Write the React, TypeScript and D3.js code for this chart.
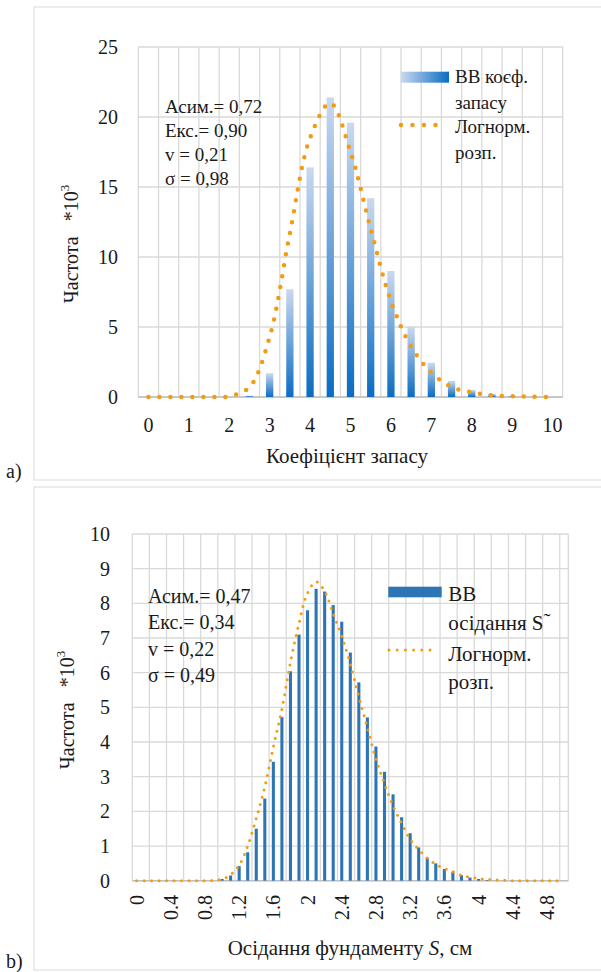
import React from "react";
import * as d3 from "d3";

// ---------- Chart a) ----------
const topCategories = ["0","0.5","1","1.5","2","2.5","3","3.5","4","4.5","5","5.5","6","6.5","7","7.5","8","8.5","9","9.5","10"];
const topBars = [0,0,0,0,0,0.1,1.7,7.7,16.4,21.4,19.6,14.2,9.0,5.0,2.45,1.15,0.5,0.22,0.07,0,0];
const topLine = [0,0,0,0,0.05,0.7,4.3,11.7,18.5,21.0,17.5,12.0,6.85,3.6,1.74,0.71,0.33,0.12,0.05,0.02,0];
const topXTicks = ["0","1","2","3","4","5","6","7","8","9","10"];
const topYTicks = [0,5,10,15,20,25];
const topStats = ["Асим.= 0,72","Екс.= 0,90","v = 0,21","σ = 0,98"];
const topLegendBar = ["ВВ коєф.","запасу"];
const topLegendLine = ["Логнорм.","розп."];

// ---------- Chart b) ----------
const botCategories = ["0","0.1","0.2","0.3","0.4","0.5","0.6","0.7","0.8","0.9","1","1.1","1.2","1.3","1.4","1.5","1.6","1.7","1.8","1.9","2","2.1","2.2","2.3","2.4","2.5","2.6","2.7","2.8","2.9","3","3.1","3.2","3.3","3.4","3.5","3.6","3.7","3.8","3.9","4","4.1","4.2","4.3","4.4","4.5","4.6","4.7","4.8","4.9","5"];
const botBars = [0,0,0,0,0,0,0,0,0,0,0.05,0.15,0.42,0.82,1.5,2.37,3.43,4.72,6.04,7.1,7.8,8.42,8.34,7.95,7.47,6.58,5.72,4.71,3.87,3.14,2.49,1.83,1.37,0.96,0.66,0.5,0.34,0.26,0.16,0.09,0.05,0.02,0,0,0,0,0,0,0,0,0];
const botLine = [0,0,0,0,0,0,0,0,0,0.01,0.05,0.17,0.45,1.0,1.8,2.71,3.86,4.95,6.3,7.42,8.3,8.62,8.35,7.7,7.05,6.26,5.3,4.42,3.5,2.8,2.16,1.66,1.2,0.9,0.65,0.47,0.35,0.26,0.15,0.1,0.06,0.04,0.02,0.01,0,0,0,0,0,0,0];
const botXTicks = ["0","0.4","0.8","1.2","1.6","2","2.4","2.8","3.2","3.6","4","4.4","4.8"];
const botYTicks = [0,1,2,3,4,5,6,7,8,9,10];
const botStats = ["Асим.= 0,47","Екс.= 0,34","v = 0,22","σ = 0,49"];

const FONT = '"Liberation Serif", "Times New Roman", Times, Tinos, "Noto Serif", "DejaVu Serif", FreeSerif, "Nimbus Roman", serif';
const ORANGE = "#F39C12";
const GRID = "#d9d9d9";
const INK = "#1a1a1a";

export default function App() {
  // scales a)
  const xA = d3.scaleBand<string>().domain(topCategories).range([138.3, 562.7]);
  const yA = d3.scaleLinear().domain([0, 25]).range([397, 47]);
  const lineA = d3
    .line<number>()
    .x((_, i) => (xA(topCategories[i]) as number) + xA.bandwidth() / 2)
    .y((d) => yA(d))
    .curve(d3.curveCatmullRom.alpha(0.5));
  const bwA = xA.bandwidth() * 0.36;

  // scales b)
  const xB = d3.scaleBand<string>().domain(botCategories).range([132.3, 568.3]);
  const yB = d3.scaleLinear().domain([0, 10]).range([880.7, 534]);
  const lineB = d3
    .line<number>()
    .x((_, i) => (xB(botCategories[i]) as number) + xB.bandwidth() / 2)
    .y((d) => yB(d))
    .curve(d3.curveCatmullRom.alpha(0.5));
  const bwB = xB.bandwidth() * 0.36;

  const vGridA = d3.range(topCategories.length + 1).map((k) => 138.3 + k * xA.step());
  const vGridB = d3
    .range(0, botCategories.length + 1, 2)
    .map((k) => 132.3 + k * xB.step())
    .concat([568.3]);

  return (
    <svg
      width={601}
      height={972}
      style={{ position: "absolute", left: 0, top: 0, background: "#fff", fontFamily: FONT }}
    >
      <style>{`text { font-family: ${FONT}; fill: ${INK}; }`}</style>
      <defs>
        <linearGradient id="barGrad" x1="0" y1="0" x2="0" y2="1">
          <stop offset="0" stopColor="#cbd9ef" />
          <stop offset="1" stopColor="#0a6cc2" />
        </linearGradient>
        <linearGradient id="legGrad" x1="0" y1="0" x2="1" y2="0">
          <stop offset="0" stopColor="#cbd9ef" />
          <stop offset="1" stopColor="#0a6cc2" />
        </linearGradient>
      </defs>

      {/* ===== Chart a) ===== */}
      <rect x={34} y={7} width={580} height={473} fill="#fff" stroke={GRID} strokeWidth={1} />
      {topYTicks.map((t) => (
        <line key={"ha" + t} x1={138.3} x2={562.7} y1={yA(t)} y2={yA(t)} stroke={GRID} strokeWidth={1.3} />
      ))}
      {vGridA.map((x, k) => (
        <line key={"va" + k} x1={x} x2={x} y1={yA(25)} y2={yA(0)} stroke={GRID} strokeWidth={1.3} />
      ))}
      <line x1={138.3} x2={562.7} y1={yA(0)} y2={yA(0)} stroke="#bfbfbf" strokeWidth={1.5} />
      {topBars.map((v, i) =>
        v > 0 ? (
          <rect
            key={"ba" + i}
            x={(xA(topCategories[i]) as number) + xA.bandwidth() / 2 - bwA / 2}
            y={yA(v)}
            width={bwA}
            height={yA(0) - yA(v)}
            fill="url(#barGrad)"
          />
        ) : null
      )}
      <path
        d={lineA(topLine) || ""}
        fill="none"
        stroke={ORANGE}
        strokeWidth={4.5}
        strokeLinecap="round"
        strokeDasharray="0 11"
      />
      {topYTicks.map((t) => (
        <text key={"ya" + t} x={118} y={yA(t)} dy="0.35em" textAnchor="end" fontSize={20}>
          {t}
        </text>
      ))}
      {topXTicks.map((t) => (
        <text
          key={"xa" + t}
          x={(xA(t) as number) + xA.bandwidth() / 2}
          y={432}
          textAnchor="middle"
          fontSize={20}
        >
          {t}
        </text>
      ))}
      <text x={347} y={463} textAnchor="middle" fontSize={21}>
        Коефіцієнт запасу
      </text>
      <text transform="translate(71,244) rotate(-90)" textAnchor="middle" dominantBaseline="central" fontSize={20}>
        Частота{"\u00a0\u00a0\u00a0"}*10<tspan dy={-7} fontSize={13}>3</tspan>
      </text>
      {topStats.map((s, i) => (
        <text key={"sa" + i} x={165} y={113 + i * 24} fontSize={19}>
          {s}
        </text>
      ))}
      <rect x={400.7} y={71.7} width={48.3} height={11} fill="url(#legGrad)" />
      <line x1={401} x2={447} y1={125} y2={125} stroke={ORANGE} strokeWidth={4.5} strokeLinecap="round" strokeDasharray="0 11.5" />
      {topLegendBar.map((s, i) => (
        <text key={"lba" + i} x={455} y={83 + i * 25.5} fontSize={19}>
          {s}
        </text>
      ))}
      {topLegendLine.map((s, i) => (
        <text key={"lla" + i} x={455} y={133 + i * 26} fontSize={19}>
          {s}
        </text>
      ))}
      <text x={6} y={478} fontSize={20}>a)</text>

      {/* ===== Chart b) ===== */}
      <rect x={34} y={487} width={580} height={483} fill="#fff" stroke={GRID} strokeWidth={1} />
      {botYTicks.map((t) => (
        <line key={"hb" + t} x1={132.3} x2={568.3} y1={yB(t)} y2={yB(t)} stroke={GRID} strokeWidth={1.3} />
      ))}
      {vGridB.map((x, k) => (
        <line key={"vb" + k} x1={x} x2={x} y1={yB(10)} y2={yB(0)} stroke={GRID} strokeWidth={1.3} />
      ))}
      <line x1={132.3} x2={568.3} y1={yB(0)} y2={yB(0)} stroke="#bfbfbf" strokeWidth={1.5} />
      {botBars.map((v, i) =>
        v > 0 ? (
          <rect
            key={"bb" + i}
            x={(xB(botCategories[i]) as number) + xB.bandwidth() / 2 - bwB / 2}
            y={yB(v)}
            width={bwB}
            height={yB(0) - yB(v)}
            fill="#2E75B6"
          />
        ) : null
      )}
      <path
        d={lineB(botLine) || ""}
        fill="none"
        stroke={ORANGE}
        strokeWidth={3}
        strokeLinecap="round"
        strokeDasharray="0 7.5"
      />
      {botYTicks.map((t) => (
        <text key={"yb" + t} x={110} y={yB(t)} dy="0.35em" textAnchor="end" fontSize={20}>
          {t}
        </text>
      ))}
      {botXTicks.map((t) => {
        const cx = (xB(t) as number) + xB.bandwidth() / 2;
        return (
          <text
            key={"xb" + t}
            transform={`translate(${cx},895) rotate(-90)`}
            textAnchor="end"
            dominantBaseline="central"
            fontSize={20}
          >
            {t}
          </text>
        );
      })}
      <text x={350} y={955} textAnchor="middle" fontSize={21}>
        Осідання фундаменту <tspan fontStyle="italic">S</tspan>, см
      </text>
      <text transform="translate(67,710) rotate(-90)" textAnchor="middle" dominantBaseline="central" fontSize={20}>
        Частота{"\u00a0\u00a0\u00a0"}*10<tspan dy={-7} fontSize={13}>3</tspan>
      </text>
      {botStats.map((s, i) => (
        <text key={"sb" + i} x={148} y={603 + i * 26.3} fontSize={20}>
          {s}
        </text>
      ))}
      <rect x={388.3} y={586.7} width={53.4} height={10.6} fill="#2E75B6" />
      <line x1={389} x2={438} y1={650} y2={650} stroke={ORANGE} strokeWidth={3} strokeLinecap="round" strokeDasharray="0 8.2" />
      <text x={448.3} y={601} fontSize={21}>ВВ</text>
      <text x={448.3} y={630} fontSize={21}>
        осідання S<tspan dy={-2}>˜</tspan>
      </text>
      <text x={448.3} y={660.5} fontSize={21}>Логнорм.</text>
      <text x={448.3} y={688.5} fontSize={21}>розп.</text>
      <text x={6} y={968} fontSize={20}>b)</text>
    </svg>
  );
}
